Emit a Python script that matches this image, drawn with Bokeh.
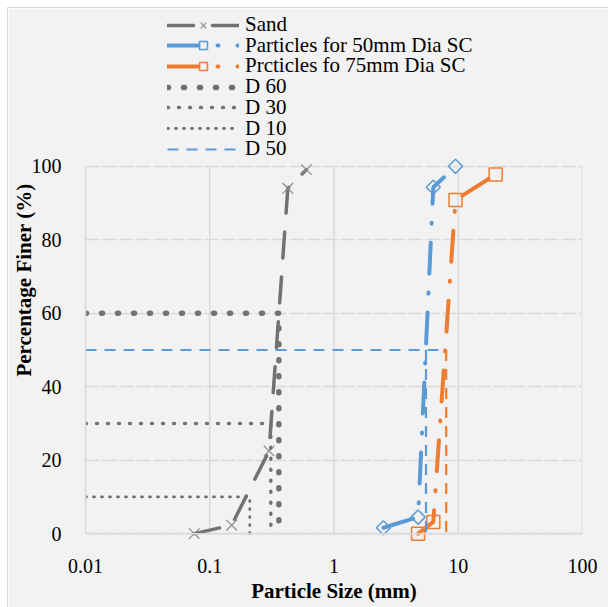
import numpy as np
from bokeh.plotting import figure
from bokeh.models import (Range1d, FixedTicker, NumeralTickFormatter, Legend, LegendItem, Span)
from bokeh.embed import file_html
from bokeh.resources import INLINE

# ---- data ----
sand_size = [0.075, 0.15, 0.3, 0.425, 0.6]
sand_finer = [0, 2.3, 22.5, 94, 99.1]

sc50_size = [2.5, 4.75, 6.3, 9.5]
sc50_finer = [1.6, 4.5, 94.3, 100]

sc75_size = [4.75, 6.3, 9.5, 20]
sc75_finer = [0, 3.2, 90.8, 97.8]

d60_x = [0.01, 0.36, 0.36]
d60_y = [60, 60, 0]
d30_x = [0.01, 0.31, 0.31]
d30_y = [30, 30, 0]
d10_x = [0.01, 0.21, 0.21]
d10_y = [10, 10, 0]
d50_x = [0.01, 8.0]
d50_y = [50, 50]
d50_sc50_x = [5.5, 5.5]
d50_sc50_y = [50, 0]
d50_sc75_x = [8.0, 8.0]
d50_sc75_y = [50, 0]

x_ticks = [0.01, 0.1, 1, 10, 100]
y_ticks = [0, 20, 40, 60, 80, 100]
y_min, y_max = 0, 100

legend_labels = ["Sand", "Particles for 50mm Dia SC", "Prcticles fo 75mm Dia SC",
                 "D 60", "D 30", "D 10", "D 50"]

GRAY = "#767171"
BLUE = "#5B9BD5"
ORANGE = "#ED7D31"
GRID = "#D9D9D9"
FONT = "Liberation Serif"

# the frame also spans the legend band at the top (y above 100 is empty space)
p = figure(width=601, height=600, x_axis_type="log",
           x_range=Range1d(x_ticks[0], x_ticks[-1]), y_range=Range1d(-3.5, 141.6),
           output_backend="svg", toolbar_location=None,
           min_border_left=76, min_border_right=27,
           min_border_top=5, min_border_bottom=62)
p.margin = (7, 0, 0, 7)
p.styles = {"border-left": "1px solid #D9D9D9", "border-top": "1px solid #D9D9D9"}
p.background_fill_color = "#F2F2F2"
p.border_fill_color = "#F2F2F2"
p.outline_line_color = None

# axes
p.xaxis.ticker = FixedTicker(ticks=x_ticks, minor_ticks=[])
p.xaxis.formatter = NumeralTickFormatter(format="0.[00]")
p.yaxis.ticker = FixedTicker(ticks=y_ticks, minor_ticks=[])
for ax in (p.xaxis, p.yaxis):
    ax.major_tick_line_color = None
    ax.minor_tick_line_color = None
    ax.axis_line_color = GRID
    ax.axis_line_width = 1.5
    ax.major_label_text_font = FONT
    ax.major_label_text_font_size = "20px"
    ax.major_label_text_color = "black"
    ax.axis_label_text_font = FONT
    ax.axis_label_text_font_size = "21px"
    ax.axis_label_text_font_style = "bold"
    ax.axis_label_text_color = "black"
p.xaxis.axis_label = "Particle Size (mm)"
p.yaxis.axis_label = "Percentage Finer (%)"
p.xaxis.axis_line_color = None
p.xaxis.major_label_standoff = 6
p.xaxis.axis_label_standoff = 3
p.yaxis.major_label_standoff = 18
p.yaxis.axis_label_standoff = -7
p.yaxis.bounds = (y_min, y_max)

p.xgrid.visible = False
p.ygrid.grid_line_color = GRID
p.ygrid.grid_line_width = 1.5
p.ygrid.grid_line_dash = "14 3"

# vertical gridlines limited to the 0-100 band, at the x ticks
p.segment(x0=x_ticks[1:], y0=[y_min] * 4, x1=x_ticks[1:], y1=[y_max] * 4,
          line_color=GRID, line_width=1.5)
p.add_layout(Span(location=y_min, dimension="width", line_color=GRID, line_width=1.5))

# series
sand_l = p.line(sand_size, sand_finer, line_color=GRAY, line_width=3.5,
                line_dash="26 19", line_cap="round")
sand_m = p.scatter(sand_size, sand_finer, marker="x", size=15,
                   line_color="#8C8C8C", line_width=1.2)

sc50_l = p.line(sc50_size, sc50_finer, line_color=BLUE, line_width=4,
                line_dash="31 19 1 19", line_cap="round")
sc50_m = p.scatter(sc50_size, sc50_finer, marker="square", angle=np.pi / 4,
                   size=10, line_color=BLUE, line_width=1.5, fill_alpha=0)

sc75_l = p.line(sc75_size, sc75_finer, line_color=ORANGE, line_width=4,
                line_dash="31 19 1 19", line_cap="round")
sc75_m = p.scatter(sc75_size, sc75_finer, marker="square", size=13,
                   line_color=ORANGE, line_width=1.5, fill_alpha=0)

d60_l = p.line(d60_x, d60_y, line_color=GRAY, line_width=5.5,
               line_dash="1 15", line_cap="round")
d30_l = p.line(d30_x, d30_y, line_color=GRAY, line_width=3.5,
               line_dash="1 10", line_cap="round")
d10_l = p.line(d10_x, d10_y, line_color=GRAY, line_width=2.8,
               line_dash="1 7", line_cap="round")
d50_l = p.line(d50_x, d50_y, line_color=BLUE, line_width=2.2, line_dash="11 8")
p.line(d50_sc50_x, d50_sc50_y, line_color=BLUE, line_width=2.2, line_dash="11 8")
p.line(d50_sc75_x, d50_sc75_y, line_color=ORANGE, line_width=2.2, line_dash="11 8")

legend_renderers = [[sand_l, sand_m], [sc50_l, sc50_m], [sc75_l, sc75_m],
                    [d60_l], [d30_l], [d10_l], [d50_l]]

# one single-row legend per entry, stacked with a tight row pitch
row_pitch = 20.7
first_row_offset = 509  # px from frame bottom to first row's legend bottom
for i, (lab, rends) in enumerate(zip(legend_labels, legend_renderers)):
    lg = Legend(items=[LegendItem(label=lab, renderers=rends)],
                location=(82, first_row_offset - i * row_pitch), orientation="vertical",
                glyph_width=72, glyph_height=20, label_height=20, spacing=0,
                label_standoff=6, padding=0, margin=0,
                label_text_font=FONT, label_text_font_size="21px", label_text_color="black",
                background_fill_alpha=0, border_line_color=None)
    p.add_layout(lg)

open("out.html", "w").write(file_html(p, INLINE))
